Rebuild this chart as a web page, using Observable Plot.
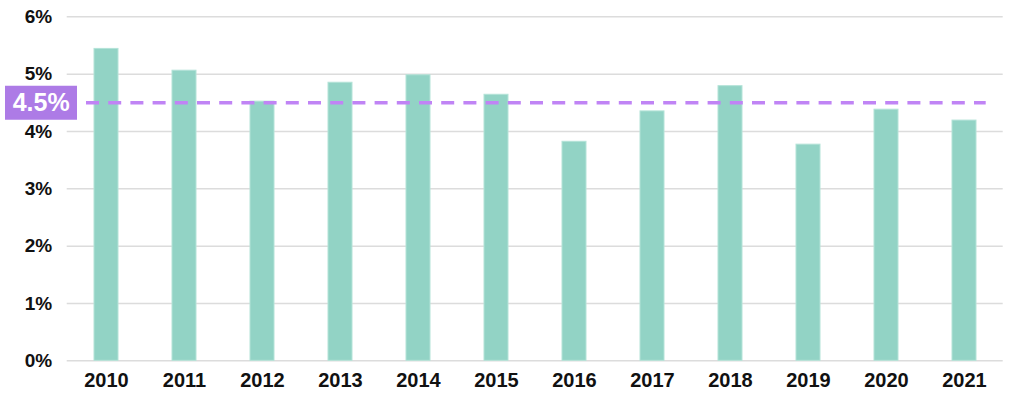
<!DOCTYPE html>
<html>
<head>
<meta charset="utf-8">
<script src="https://cdn.jsdelivr.net/npm/d3@7"></script>
<script src="https://cdn.jsdelivr.net/npm/@observablehq/plot@0.6"></script>
<style>
  html, body { margin: 0; padding: 0; background: #fff; }
  #chart svg { display: block; }
</style>
</head>
<body>
<div id="chart"></div>
<script>
const years = ["2010","2011","2012","2013","2014","2015","2016","2017","2018","2019","2020","2021"];
const rates = [5.44, 5.06, 4.52, 4.85, 4.98, 4.64, 3.82, 4.35, 4.79, 3.77, 4.38, 4.19];
const yTicks = [0, 1, 2, 3, 4, 5, 6];
const referenceValue = 4.5;
const referenceLabel = "4.5%";

const data = years.map((year, i) => ({year, rate: rates[i]}));

const chart = Plot.plot({
  width: 1015,
  height: 398,
  marginLeft: 66.7,
  marginRight: 12.3,
  marginTop: 16.3,
  marginBottom: 37.7,
  style: {fontFamily: "'Liberation Sans', Arial, sans-serif", background: "#fff"},
  x: {domain: years, type: "band", paddingInner: 0.69, paddingOuter: 0.345, label: null},
  y: {domain: [0, 6], label: null},
  marks: [
    Plot.gridY(yTicks, {stroke: "#dcdcdc", strokeOpacity: 1, strokeWidth: 1.5}),
    Plot.barY(data, {x: "year", y: "rate", fill: "#92d3c5", stroke: "#b4e3d8", strokeWidth: 1}),
    Plot.ruleY([referenceValue], {stroke: "#c084f5", strokeWidth: 3.5, strokeDasharray: "13,9.2", insetLeft: 19.3, insetRight: 17}),
    Plot.ruleY([referenceValue], {stroke: "#ad7be6", strokeWidth: 34, insetLeft: -61.7, insetRight: 925.7}),
    Plot.text([referenceLabel], {y: [referenceValue], frameAnchor: "left", dx: -26, textAnchor: "middle", fill: "#fff", fontSize: 25, fontWeight: "bold"}),
    Plot.axisY(yTicks, {tickSize: 0, tickPadding: 15, tickFormat: d => d + "%", fontSize: 19, fontWeight: "bold", fill: "#111"}),
    Plot.axisX({tickSize: 0, tickPadding: 12, fontSize: 20, fontWeight: "bold", fill: "#111"})
  ]
});
document.getElementById("chart").append(chart);
</script>
</body>
</html>
